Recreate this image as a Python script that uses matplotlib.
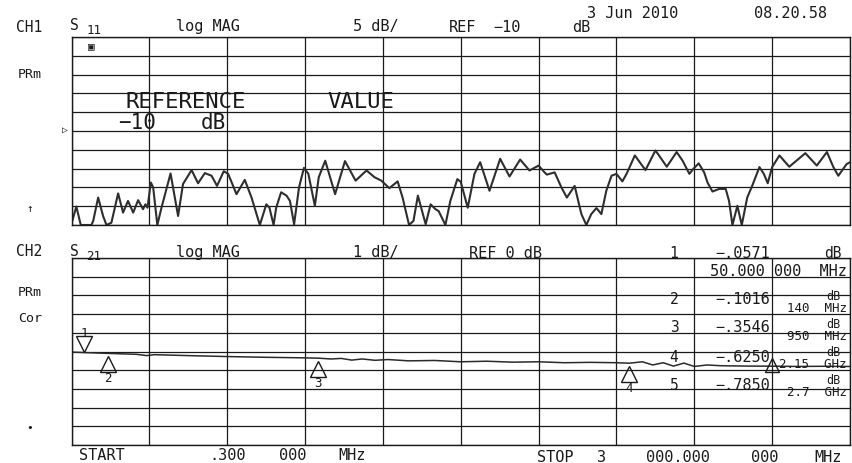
import matplotlib.pyplot as plt
import matplotlib.transforms as mtrans
import numpy as np

W, H = 853, 463
FONT = 'DejaVu Sans Mono'
INK = '#1a1a1a'

# CH1 S11 trace (MHz, dB)
s11_freq = [0.3, 19, 36, 45, 77, 84, 103, 122, 135, 154, 180, 199, 218, 238, 257,
            276, 285, 293, 306, 315, 331, 347, 382, 411, 430, 463, 488, 514, 540,
            561, 587, 604, 636, 668, 694, 726, 751, 763, 779, 789, 808, 829, 842,
            858, 877, 896, 913, 938, 953, 978, 1016, 1054, 1095, 1137, 1168, 1194,
            1225, 1257, 1276, 1301, 1318, 1335, 1365, 1384, 1403, 1415, 1441, 1460,
            1487, 1500, 1527, 1553, 1575, 1611, 1652, 1688, 1729, 1765, 1800, 1823,
            1832, 1862, 1888, 1909, 1939, 1965, 1984, 2003, 2023, 2042, 2061, 2081,
            2100, 2123, 2139, 2171, 2212, 2250, 2260, 2294, 2332, 2355, 2381, 2396,
            2417, 2438, 2451, 2470, 2496, 2521, 2534, 2547, 2566, 2583, 2604, 2623,
            2651, 2668, 2683, 2700, 2728, 2766, 2828, 2872, 2911, 2936, 2955, 2987,
            3000]
s11_db = [-34.6, -30.1, -35, -35, -35, -33.9, -27.7, -32.6, -35, -34.4, -26.6, -31.7,
          -28.6, -31.7, -28.4, -30.8, -29.5, -30.4, -23.7, -25.0, -35, -30.4, -21.3,
          -32.6, -24.1, -20.4, -23.9, -21.2, -21.9, -24.6, -20.7, -21.4, -26.8, -23.0,
          -27.7, -35, -29.5, -30.4, -35, -30.4, -26.3, -27.2, -28.6, -34.8, -25.0,
          -19.8, -21.4, -29.9, -22.3, -17.9, -26.8, -18.0, -23.2, -20.5, -22.3, -23.2,
          -25.2, -23.4, -27.7, -35, -33.9, -27.2, -34.8, -29.5, -30.8, -31.3, -35,
          -28.6, -22.8, -23.5, -30.4, -21.4, -18.3, -25.9, -17.4, -22.1, -17.6, -20.5,
          -19.2, -21.0, -21.6, -21.0, -25.0, -27.7, -24.6, -32.1, -35, -32.1, -30.5,
          -32.1, -25.9, -21.9, -21.4, -23.4, -21.4, -16.5, -20.4, -15.2, -16.1, -19.5,
          -15.6, -17.9, -21.4, -20.1, -18.6, -21.0, -23.7, -26.1, -25.4, -25.4, -28.6,
          -35, -29.9, -35, -27.7, -24.6, -19.6, -21.4, -23.9, -19.6, -16.5, -19.5,
          -15.9, -19.2, -15.6, -19.6, -21.9, -18.8, -18.3]

# CH2 S21 trace (MHz, dB)
s21_freq = [0.3, 50, 140, 250, 290, 320, 450, 600, 750, 900, 950, 1000, 1040, 1080,
            1120, 1170, 1220, 1300, 1400, 1500, 1600, 1700, 1800, 1900, 2000, 2100,
            2150, 2200, 2240, 2280, 2320, 2360, 2400, 2450, 2500, 2600, 2700, 2800,
            2900, 3000]
s21_db = [-0.03, -0.057, -0.10, -0.15, -0.22, -0.17, -0.22, -0.27, -0.31, -0.34, -0.355,
          -0.40, -0.37, -0.46, -0.40, -0.47, -0.43, -0.50, -0.48, -0.55, -0.52, -0.57,
          -0.55, -0.60, -0.58, -0.60, -0.625, -0.55, -0.72, -0.60, -0.78, -0.62, -0.80,
          -0.72, -0.76, -0.78, -0.785, -0.80, -0.79, -0.80]

# markers
mk_names = ['1', '2', '3', '4', '5']
mk_freq = [50, 140, 950, 2150, 2700]
mk_db = [-0.0571, -0.1016, -0.3546, -0.6250, -0.7850]
mk_read = ['\u2212.0571', '\u2212.1016', '\u2212.3546', '\u2212.6250', '\u2212.7850']
mk_stim = ['50.000 000  MHz', '140  MHz', '950  MHz', '2.15  GHz', '2.7  GHz']

fig = plt.figure(figsize=(W / 100, H / 100), dpi=100)
fig.patch.set_facecolor('white')


def put(x, y, s, size=10.5, ha='center', **kw):
    # x, y in reference pixels from the top-left corner
    fig.text(x / W, 1 - y / H, s, fontsize=size, family=FONT, ha=ha, va='center',
             color=INK, **kw)


def panel(rect, ylo, yhi):
    ax = fig.add_axes(rect)
    ax.set_xlim(0.3, 3000)
    ax.set_ylim(ylo, yhi)
    ax.set_xticks(np.linspace(0.3, 3000, 11))
    ax.set_yticks(np.linspace(ylo, yhi, 11))
    ax.tick_params(length=0, labelbottom=False, labelleft=False)
    ax.grid(True, color=INK, linewidth=0.9)
    for sp in ax.spines.values():
        sp.set_color(INK)
        sp.set_linewidth(1.0)
    return ax


ax1 = panel([71.5 / W, 1 - 225 / H, 778.5 / W, 188 / H], -35, 15)
ax1.plot(s11_freq, s11_db, color='#2e2e2e', linewidth=1.5)

ax2 = panel([71.5 / W, 1 - 445 / H, 778.5 / W, 187 / H], -5, 5)
ax2.plot(s21_freq, s21_db, color='#2a2a2a', linewidth=1.1)

# marker symbols
below = mtrans.offset_copy(ax2.transData, fig=fig, y=-7.5, units='points')
above = mtrans.offset_copy(ax2.transData, fig=fig, y=6.5, units='points')
on_trace = mtrans.offset_copy(ax2.transData, fig=fig, y=1, units='points')
lab_below = mtrans.offset_copy(ax2.transData, fig=fig, y=-18, units='points')
lab_above = mtrans.offset_copy(ax2.transData, fig=fig, y=14, units='points')
for i, (f, d) in enumerate(zip(mk_freq, mk_db)):
    if i == 0:
        ax2.plot(f, d, marker='v', ms=11, mfc='none', mec=INK, mew=1.0,
                 transform=above, clip_on=False)
        ax2.text(f, d, mk_names[i], transform=lab_above, ha='center', va='center',
                 family=FONT, fontsize=9, color=INK)
    elif i < 4:
        ax2.plot(f, d, marker='^', ms=11, mfc='none', mec=INK, mew=1.0,
                 transform=below, clip_on=False)
        ax2.text(f, d, mk_names[i], transform=lab_below, ha='center', va='center',
                 family=FONT, fontsize=9, color=INK)
    else:
        ax2.plot(f, d, marker='^', ms=10, mfc='none', mec=INK, mew=1.0,
                 transform=on_trace, clip_on=False)

# CH1 header
put(633, 14, '3 Jun 2010', 11)
put(791, 14, '08.20.58', 11)
put(29, 27, 'CH1')
put(74, 26, 'S')
put(94, 31, '11', 9)
put(208, 27, 'log MAG', 11)
put(376, 27, '5 dB/', 11)
put(463, 28, 'REF', 11)
put(507, 28, '\u221210', 11)
put(581, 28, 'dB', 11)
put(30, 74, 'PRm', 9.5)
put(91, 46, '\u25a3', 8)
put(186, 102, 'REFERENCE', 16)
put(361, 102, 'VALUE', 16)
put(137, 123, '\u221210', 15)
put(213, 123, 'dB', 15)
put(65, 130, '\u25b7', 7)
put(30, 209, '\u2191', 8)

# CH2 header and marker readouts
put(29, 252, 'CH2')
put(74, 251, 'S')
put(94, 256, '21', 9)
put(208, 252, 'log MAG', 11)
put(376, 252, '1 dB/', 11)
put(506, 253, 'REF 0 dB', 11)
put(674, 253, mk_names[0])
put(743, 253, mk_read[0], 11)
put(833, 253, 'dB', 10.5)
put(847, 272, mk_stim[0], 11, ha='right')
put(30, 293, 'PRm', 9.5)
put(30, 318, 'Cor', 9.5)
put(30, 428, '\u2022', 8)

read_y = [None, 300, 328, 357, 385]
for i in range(1, 5):
    y = read_y[i]
    put(674, y, mk_names[i])
    put(743, y, mk_read[i], 11)
    put(833, y - 4, 'dB', 8.5)
    put(847, y + 8, mk_stim[i], 9, ha='right')

# stimulus range
put(102, 455, 'START', 11)
put(228, 455, '.300', 11)
put(293, 455, '000', 11)
put(352, 455, 'MHz', 11)
put(555, 457, 'STOP', 11)
put(602, 457, '3', 11)
put(678, 457, '000.000', 11)
put(765, 457, '000', 11)
put(828, 457, 'MHz', 11)

fig.savefig('out.png', dpi=100)
